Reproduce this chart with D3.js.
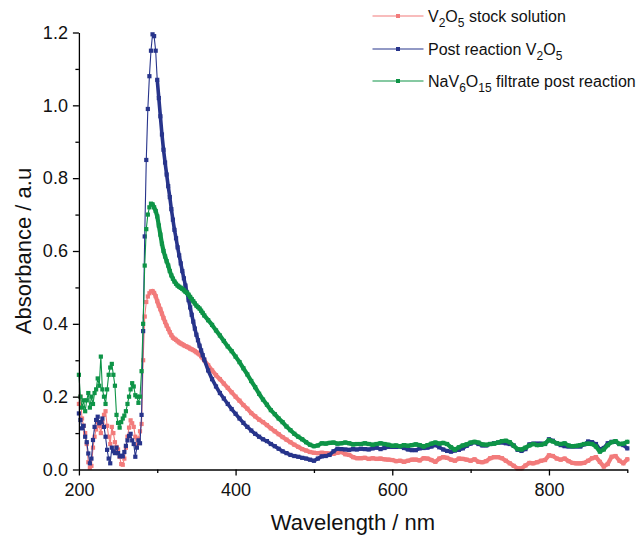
<!DOCTYPE html>
<html><head><meta charset="utf-8">
<script src="https://cdn.jsdelivr.net/npm/d3@7"></script>
<style>
body{margin:0;background:#fff}
svg{display:block}
text{font-family:"Liberation Sans",Arial,sans-serif}
</style>
</head><body>
<svg id="chart" width="640" height="536"></svg>
<script>
// ---- data ----
const wavelengths = [
200,202,204,206,208,210,212,214,216,218,220,222,224,226,228,230,232,234,236,238,
240,242,244,246,248,250,252,254,256,258,260,262,264,266,268,270,272,274,276,278,
280,282,284,286,288,290,292,294,296,298,300,302,304,306,308,310,312,314,316,318,
320,322,324,326,328,330,332,334,336,338,340,342,344,346,348,350,352,354,356,358,
360,365,370,375,380,385,390,395,400,405,410,415,420,425,430,435,440,445,450,455,
460,465,470,475,480,485,490,495,500,505,510,515,520,525,530,535,540,545,550,555,
560,565,570,575,580,585,590,595,600,605,610,615,620,625,630,635,640,645,650,655,
660,665,670,675,680,685,690,695,700,705,710,715,720,725,730,735,740,745,750,755,
760,765,770,775,780,785,790,795,800,805,810,815,820,825,830,835,840,845,850,855,
860,865,870,875,880,885,890,895,900];

const stockSolution = [
.18,.20,.14,.12,.10,.07,.02,.005,.01,.06,.09,.11,.13,.12,.10,.13,.15,.16,.12,.09,
.07,.117,.10,.075,.062,.055,.035,.015,.013,.03,.06,.09,.115,.135,.127,.117,.09,.063,.085,.105,
.125,.30,.42,.46,.475,.484,.489,.49,.485,.476,.462,.45,.44,.428,.416,.405,.395,.386,.377,.369,
.362,.359,.356,.352,.349,.346,.344,.341,.339,.337,.335,.332,.330,.328,.325,.322,.319,.316,.311,.306,
.300,.286,.272,.259,.248,.236,.224,.212,.200,.189,.177,.167,.155,.146,.137,.130,.122,.113,.105,.097,
.089,.082,.075,.068,.062,.056,.052,.048,.046,.045,.046,.045,.044,.043,.046,.048,.042,.040,.034,.031,
.031,.032,.029,.031,.029,.030,.028,.027,.026,.023,.024,.021,.024,.027,.027,.025,.031,.030,.026,.021,
.030,.034,.032,.027,.024,.030,.029,.027,.024,.028,.021,.020,.023,.031,.034,.034,.031,.024,.017,.010,
.003,.003,.011,.018,.017,.020,.024,.026,.039,.037,.030,.027,.030,.023,.018,.017,.017,.018,.024,.031,
.034,.021,.008,.015,.035,.037,.024,.017,.028];

const postReaction = [
.154,.136,.113,.12,.09,.075,.044,.017,.03,.081,.117,.136,.145,.127,.13,.14,.117,.09,.054,.03,
.017,.06,.05,.045,.06,.045,.036,.038,.036,.048,.065,.08,.092,.098,.08,.07,.035,.06,.08,.072,
.15,.38,.64,.85,.99,1.08,1.15,1.195,1.19,1.15,1.07,1.02,.97,.92,.878,.843,.81,.778,.748,.715,
.686,.658,.635,.61,.588,.566,.545,.525,.505,.486,.465,.445,.425,.406,.387,.370,.355,.340,.327,.314,
.302,.272,.248,.228,.210,.195,.180,.166,.153,.140,.128,.117,.107,.098,.090,.083,.078,.070,.064,.057,
.050,.045,.040,.037,.035,.032,.030,.027,.024,.030,.036,.037,.040,.050,.057,.056,.055,.054,.056,.055,
.057,.056,.055,.058,.060,.056,.059,.062,.062,.062,.063,.059,.055,.053,.053,.058,.059,.060,.063,.067,
.061,.055,.051,.049,.052,.054,.058,.065,.071,.075,.070,.066,.066,.070,.072,.074,.074,.072,.070,.066,
.054,.051,.056,.069,.071,.071,.071,.070,.083,.079,.072,.067,.064,.063,.063,.063,.063,.069,.077,.075,
.070,.055,.059,.072,.076,.076,.070,.067,.058];

const filtrate = [
.26,.20,.17,.19,.16,.19,.21,.17,.20,.18,.21,.22,.25,.23,.31,.22,.20,.18,.22,.26,
.28,.29,.26,.23,.15,.128,.115,.13,.14,.148,.16,.18,.20,.22,.237,.228,.204,.20,.183,.20,
.27,.40,.56,.66,.70,.72,.73,.728,.72,.71,.695,.67,.645,.62,.60,.585,.572,.56,.545,.533,
.524,.516,.51,.505,.502,.499,.496,.492,.488,.485,.48,.474,.468,.462,.456,.45,.446,.442,.436,.43,
.423,.410,.397,.382,.368,.353,.338,.325,.310,.295,.278,.261,.243,.226,.208,.192,.178,.163,.152,.140,
.130,.118,.108,.098,.090,.083,.075,.068,.064,.066,.072,.071,.073,.074,.071,.072,.074,.072,.069,.070,
.070,.072,.070,.068,.070,.072,.070,.068,.065,.066,.064,.067,.065,.067,.069,.067,.063,.067,.071,.074,
.071,.073,.070,.061,.054,.061,.066,.069,.074,.076,.074,.069,.068,.070,.071,.074,.078,.079,.075,.065,
.056,.055,.060,.066,.070,.067,.068,.071,.081,.077,.072,.070,.072,.066,.064,.065,.067,.070,.071,.070,
.063,.049,.055,.067,.075,.078,.070,.071,.076];

const xTickLabels = [200, 400, 600, 800];
const xMinorTicks = [300, 500, 700, 900];
const yTickLabels = [0.0, 0.2, 0.4, 0.6, 0.8, 1.0, 1.2];
const yMinorTicks = [0.1, 0.3, 0.5, 0.7, 0.9, 1.1];

// legend labels as [text, isSubscript] parts
const seriesLabels = [
  [["V",0],["2",1],["O",0],["5",1],[" stock solution",0]],
  [["Post reaction V",0],["2",1],["O",0],["5",1]],
  [["NaV",0],["6",1],["O",0],["15",1],[" filtrate post reaction",0]]
];
const seriesColors = ["#F27B7B", "#27348B", "#0E9447"];
const seriesValues = [stockSolution, postReaction, filtrate];
// where the densely-sampled markers merge into a solid band (style only)
const denseFrom = [294, 300, 294];

// ---- drawing ----
const svg = d3.select("#chart");
const x = d3.scaleLinear().domain([200, 900]).range([78.9, 627.3]);
const y = d3.scaleLinear().domain([0, 1.2]).range([469.5, 32.5]);
const line = d3.line().x(d => x(d[0])).y(d => y(d[1]));

seriesValues.forEach((vals, i) => {
  const pts = wavelengths.map((w, k) => [w, vals[k]]);
  const g = svg.append("g");
  g.append("path")
    .datum(pts)
    .attr("fill", "none")
    .attr("stroke", seriesColors[i])
    .attr("stroke-width", 1.1)
    .attr("d", line);
  g.append("path")
    .datum(pts.filter(d => d[0] >= denseFrom[i]))
    .attr("fill", "none")
    .attr("stroke", seriesColors[i])
    .attr("stroke-width", i === 1 ? 3.6 : 4.2)
    .attr("stroke-linejoin", "round")
    .attr("stroke-linecap", "round")
    .attr("d", line);
  g.selectAll("rect").data(pts).join("rect")
    .attr("x", d => x(d[0]) - 2.1)
    .attr("y", d => y(d[1]) - 2.1)
    .attr("width", 4.2).attr("height", 4.2)
    .attr("fill", seriesColors[i]);
});

// axes
const axisG = svg.append("g");
axisG.append("g").attr("transform", `translate(0,${y(0)})`)
  .call(d3.axisBottom(x).tickValues(xTickLabels).tickSize(6).tickSizeOuter(0).tickPadding(8).tickFormat(d3.format("d")));
axisG.append("g").attr("transform", `translate(0,${y(0)})`)
  .call(d3.axisBottom(x).tickValues(xMinorTicks).tickSize(3.5).tickSizeOuter(0).tickFormat(""))
  .select(".domain").remove();
axisG.append("g").attr("transform", `translate(${x(200)},0)`)
  .call(d3.axisLeft(y).tickValues(yTickLabels).tickSize(6).tickSizeOuter(0).tickPadding(5).tickFormat(d3.format(".1f")));
axisG.append("g").attr("transform", `translate(${x(200)},0)`)
  .call(d3.axisLeft(y).tickValues(yMinorTicks).tickSize(3.5).tickSizeOuter(0).tickFormat(""))
  .select(".domain").remove();
axisG.selectAll(".domain, .tick line").attr("stroke", "#000").attr("stroke-width", 1.3);
axisG.selectAll(".tick text").attr("font-size", 18).attr("fill", "#111")
  .style("font-family", '"Liberation Sans",Arial,sans-serif');

// axis titles
svg.append("text").attr("x", 353).attr("y", 530).attr("text-anchor", "middle")
  .attr("font-size", 22).attr("fill", "#111").text("Wavelength / nm");
svg.append("text").attr("transform", `translate(31,${(y(0)+y(1.2))/2}) rotate(-90)`)
  .attr("text-anchor", "middle").attr("font-size", 22).attr("fill", "#111").text("Absorbance / a.u");

// legend
const legendRows = [16, 49, 81];
seriesLabels.forEach((parts, i) => {
  const ly = legendRows[i];
  const lg = svg.append("g");
  lg.append("line").attr("x1", 372.5).attr("x2", 423.5).attr("y1", ly).attr("y2", ly)
    .attr("stroke", seriesColors[i]).attr("stroke-width", 1.1);
  lg.append("rect").attr("x", 396).attr("y", ly - 2).attr("width", 4).attr("height", 4)
    .attr("fill", seriesColors[i]);
  const t = lg.append("text").attr("x", 428).attr("y", ly + 6).attr("font-size", 16).attr("fill", "#111");
  parts.forEach(([s, sub], k) => {
    const prevSub = k > 0 ? parts[k-1][1] : 0;
    let dy = 0;
    if (sub && !prevSub) dy = 5;
    else if (!sub && prevSub) dy = -5;
    const sp = t.append("tspan").attr("dy", dy).text(s);
    if (sub) sp.attr("font-size", 12);
  });
});
</script>
</body></html>
